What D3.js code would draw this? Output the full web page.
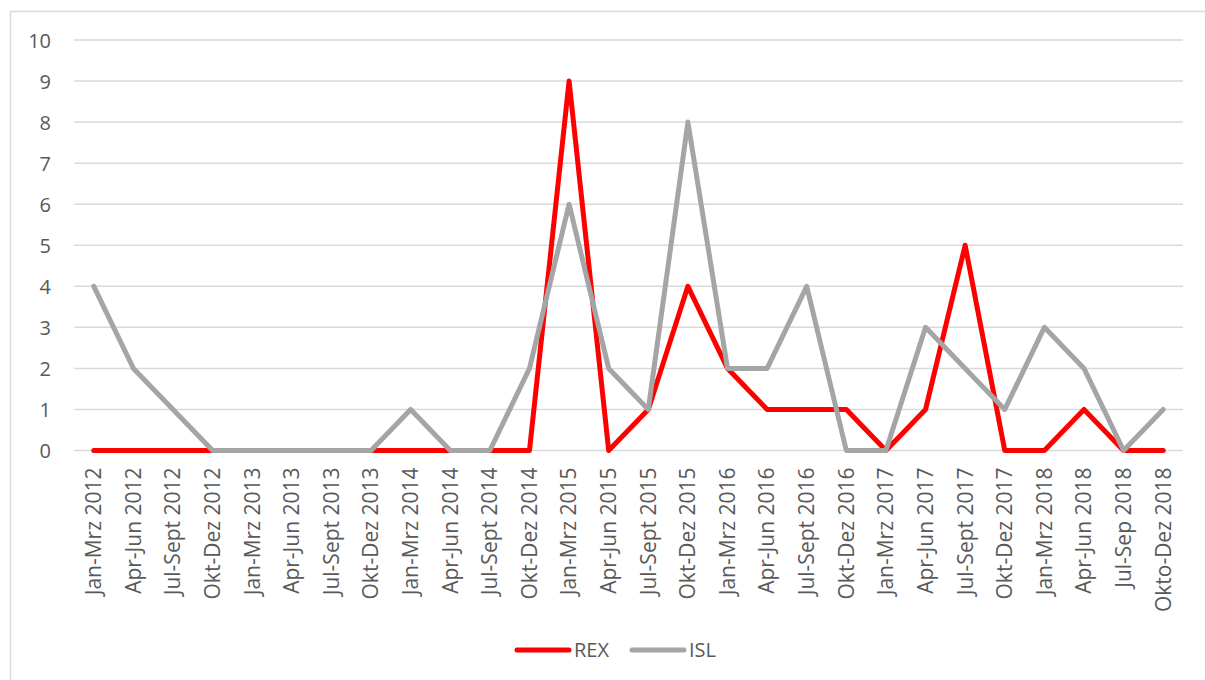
<!DOCTYPE html>
<html><head><meta charset="utf-8">
<script src="https://cdn.jsdelivr.net/npm/d3@7"></script>
<style>
html,body{margin:0;padding:0;background:#fff;}
svg{display:block;}
text{font-family:"Open Sans",sans-serif;fill:#595959;}
</style></head><body>
<svg id="c" width="1205" height="680"></svg>
<script>
const categories = ["Jan-Mrz 2012","Apr-Jun 2012","Jul-Sept 2012","Okt-Dez 2012","Jan-Mrz 2013","Apr-Jun 2013","Jul-Sept 2013","Okt-Dez 2013","Jan-Mrz 2014","Apr-Jun 2014","Jul-Sept 2014","Okt-Dez 2014","Jan-Mrz 2015","Apr-Jun 2015","Jul-Sept 2015","Okt-Dez 2015","Jan-Mrz 2016","Apr-Jun 2016","Jul-Sept 2016","Okt-Dez 2016","Jan-Mrz 2017","Apr-Jun 2017","Jul-Sept 2017","Okt-Dez 2017","Jan-Mrz 2018","Apr-Jun 2018","Jul-Sep 2018","Okto-Dez 2018"];
const rex = [0,0,0,0,0,0,0,0,0,0,0,0,9,0,1,4,2,1,1,1,0,1,5,0,0,1,0,0];
const isl = [4,2,1,0,0,0,0,0,1,0,0,2,6,2,1,8,2,2,4,0,0,3,2,1,3,2,0,1];
const yTicks = [0,1,2,3,4,5,6,7,8,9,10];
const seriesNames = ["REX","ISL"];
const seriesColors = ["#FF0000","#A5A5A5"];
const FONT = "'Open Sans',sans-serif";

const svg = d3.select("#c");
svg.append("rect").attr("x",10.5).attr("y",11.5).attr("width",1210).attr("height",700)
  .attr("fill","none").attr("stroke","#D9D9D9").attr("stroke-width",1.5);

const pLeft=74, pRight=1183, pTop=40, pBottom=450.5;
const x = d3.scaleBand().domain(categories).range([pLeft,pRight]);
const y = d3.scaleLinear().domain([0,10]).range([pBottom,pTop]);

svg.append("g").selectAll("line").data(yTicks).join("line")
  .attr("x1",pLeft).attr("x2",pRight).attr("y1",d=>y(d)).attr("y2",d=>y(d))
  .attr("stroke","#D9D9D9").attr("stroke-width",1.5);

const yAxis = d3.axisLeft(y).tickValues(yTicks).tickSize(0).tickPadding(0);
const gy = svg.append("g").attr("transform",`translate(51,0)`).call(yAxis);
gy.select(".domain").remove();
gy.selectAll("text").attr("font-size",20).attr("fill","#595959").style("font-family",FONT).attr("dy","0.35em");

const xAxis = d3.axisBottom(x).tickSize(0).tickPadding(0);
const gx = svg.append("g").attr("transform",`translate(0,${pBottom})`).call(xAxis);
gx.select(".domain").remove();
gx.selectAll("text").attr("font-size",21).attr("fill","#595959").style("font-family",FONT)
  .attr("text-anchor","end").attr("transform","translate(0,17) rotate(-90)").attr("dy","0.35em").attr("x",0).attr("y",0);

const line = d3.line().x((d,i)=>x(categories[i])+x.bandwidth()/2).y(d=>y(d));
svg.append("path").datum(rex).attr("d",line).attr("fill","none").attr("stroke",seriesColors[0])
  .attr("stroke-width",5).attr("stroke-linejoin","round").attr("stroke-linecap","round");
svg.append("path").datum(isl).attr("d",line).attr("fill","none").attr("stroke",seriesColors[1])
  .attr("stroke-width",5).attr("stroke-linejoin","round").attr("stroke-linecap","round");

const legX=[517,632];
seriesNames.forEach((n,i)=>{
  const g=svg.append("g");
  g.append("line").attr("x1",legX[i]).attr("x2",legX[i]+52).attr("y1",650).attr("y2",650)
    .attr("stroke",seriesColors[i]).attr("stroke-width",5).attr("stroke-linecap","round");
  g.append("text").attr("x",legX[i]+57).attr("y",650).attr("dy","0.35em").attr("font-size",20).style("font-family",FONT).text(n);
});
</script>
</body></html>
